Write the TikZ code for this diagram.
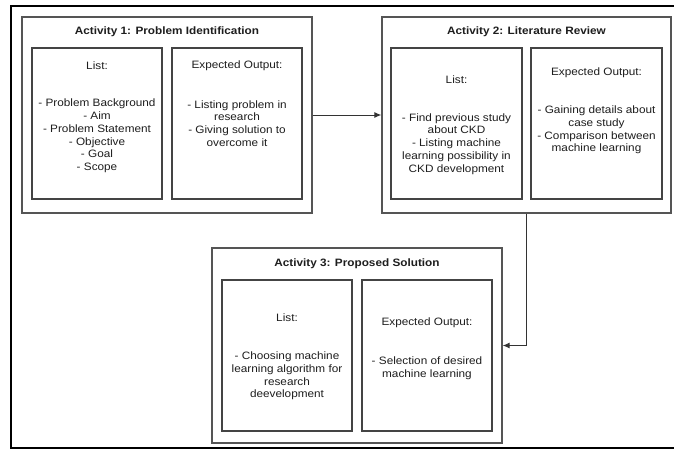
\documentclass[tikz,border=0pt]{standalone}
\usepackage{fontspec}
\setmainfont{Liberation Sans}[FakeStretch=1.1]
\usetikzlibrary{arrows.meta}
\definecolor{edge}{HTML}{555555}
\definecolor{ink}{HTML}{1E1E1E}
\tikzset{
  frame/.style={draw=black, line width=2.2pt},
  group/.style={draw=edge, line width=1.3pt, inner sep=0pt, fill=white},
  panel/.style={draw=edge!80!black, line width=1.3pt, inner sep=0pt},
  title/.style={font=\fontsize{10.7}{12.8}\selectfont\bfseries, text=ink, inner sep=0pt},
  txt/.style={font=\fontsize{10.7}{12.8}\selectfont, text=ink, align=center, inner sep=0pt},
  flow/.style={draw=black!80, line width=1pt, -{Latex[length=7pt,width=6pt]}}
}
\begin{document}
\begin{tikzpicture}[x=1pt,y=-1pt]
\useasboundingbox (0,0) rectangle (674,450);
\clip (0,0) rectangle (674,450);
% outer frame, running off the right edge
\draw[frame] (11,6) rectangle (720,448);

% activity groups
\node[group, minimum width=290pt, minimum height=196pt] (a1) at (167,115) {};
\node[group, minimum width=289pt, minimum height=196pt] (a2) at (526.5,115) {};
\node[group, minimum width=290pt, minimum height=195pt] (a3) at (357,345.5) {};

% inner panels
\node[panel, minimum width=130pt, minimum height=151pt] (l1) at (97,123.5) {};
\node[panel, minimum width=130pt, minimum height=151pt] (e1) at (237,123.5) {};
\node[panel, minimum width=131pt, minimum height=151pt] (l2) at (456.5,123.5) {};
\node[panel, minimum width=131pt, minimum height=151pt] (e2) at (596.5,123.5) {};
\node[panel, minimum width=130pt, minimum height=151pt] (l3) at (287,355.5) {};
\node[panel, minimum width=130pt, minimum height=151pt] (e3) at (427,355.5) {};

% titles
\node[title] (t1) at (167,32) {Activity 1: Problem Identification};
\node[title] (t2) at (526.5,32) {Activity 2: Literature Review};
\node[title] (t3) at (357,263.5) {Activity 3: Proposed Solution};

% activity 1 texts
\node[txt] (l1h) at (97,66) {List:};
\node[txt] (l1b) at (97,136) {- Problem Background\\- Aim\\- Problem Statement\\- Objective\\- Goal\\- Scope};
\node[txt] (e1h) at (237,66) {Expected Output:};
\node[txt] (e1b) at (237,123.5) {- Listing problem in\\research\\- Giving solution to\\overcome it};

% activity 2 texts
\node[txt] (l2h) at (456.5,80) {List:};
\node[txt] (l2b) at (456.5,144) {- Find previous study\\about CKD\\- Listing machine\\learning possibility in\\CKD development};
\node[txt] (e2h) at (596.5,73) {Expected Output:};
\node[txt] (e2b) at (596.5,130) {- Gaining details about\\case study\\- Comparison between\\machine learning};

% activity 3 texts
\node[txt] (l3h) at (287,318) {List:};
\node[txt] (l3b) at (287,376) {- Choosing machine\\learning algorithm for\\research\\deevelopment};
\node[txt] (e3h) at (427,323) {Expected Output:};
\node[txt] (e3b) at (427,368.5) {- Selection of desired\\machine learning};

% connectors
\draw[flow] (a1.east) -- (a2.west);
\draw[flow] (a2.south) |- (a3.east);
\end{tikzpicture}
\end{document}
